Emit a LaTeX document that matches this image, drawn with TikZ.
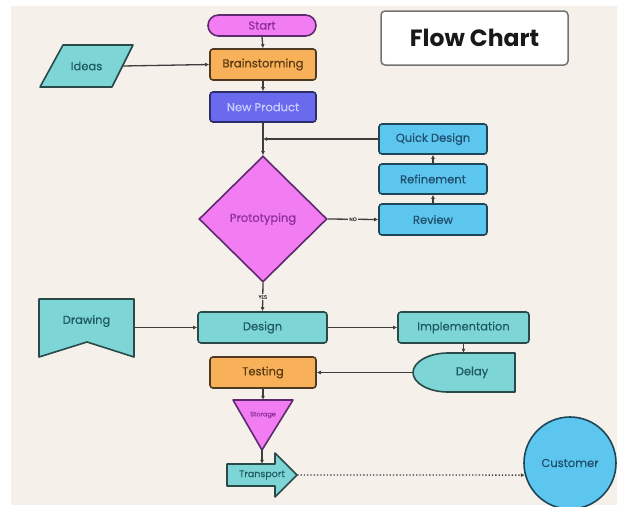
\documentclass[tikz,border=0pt]{standalone}
\usepackage{fontspec}
\setmainfont{Poppins}
\newfontfamily\labfont{Poppins}[FakeBold=0.4]
\usetikzlibrary{shapes.geometric,arrows.meta,calc}
\pgfdeclarelayer{bg}
\pgfdeclarelayer{back}
\pgfsetlayers{back,bg,main}
\definecolor{bgc}{HTML}{F5F1EA}
\definecolor{pinkc}{HTML}{F27CF2}
\definecolor{pinkd}{HTML}{5E2A6E}
\definecolor{pinkt}{HTML}{8E2EA0}
\definecolor{orngc}{HTML}{F8B158}
\definecolor{orngd}{HTML}{4E3A22}
\definecolor{orngt}{HTML}{5A3A12}
\definecolor{purpc}{HTML}{6A6AEE}
\definecolor{purpd}{HTML}{2D2D6A}
\definecolor{purpt}{HTML}{CACAFF}
\definecolor{skyc}{HTML}{5CC6EE}
\definecolor{skyd}{HTML}{1E4658}
\definecolor{skyt}{HTML}{1F4F6F}
\definecolor{tealc}{HTML}{7DD5D5}
\definecolor{teald}{HTML}{2A4A4A}
\definecolor{tealt}{HTML}{1F5A5E}
\definecolor{linec}{HTML}{3E3E3E}
\tikzset{
  lab/.style={font=\labfont\fontsize{11.5}{13}\selectfont, inner sep=0pt},
  rbox/.style={lab, draw, line width=1.6pt, rounded corners=3pt},
  pinkbox/.style={rbox, fill=pinkc, draw=pinkd, text=pinkt},
  orngbox/.style={rbox, fill=orngc, draw=orngd, text=orngt},
  purpbox/.style={rbox, fill=purpc, draw=purpd, text=purpt},
  skybox/.style={rbox, fill=skyc, draw=skyd, text=skyt},
  tealbox/.style={rbox, fill=tealc, draw=teald, text=tealt},
  tealshape/.style={fill=tealc, draw=teald, line width=1.6pt, line join=round},
  ghost/.style={lab, text=tealt},
  arr/.style={draw=linec, line width=1.3pt, -{Latex[length=4pt,width=4pt]}},
  tiny/.style={font=\labfont\fontsize{5}{6}\selectfont, inner sep=1pt, fill=bgc, text=black!80}
}
\begin{document}
\begin{tikzpicture}[x=1pt,y=-1pt]
\useasboundingbox (0,0) rectangle (620,506);
\begin{pgfonlayer}{back}
\fill[white] (0,0) rectangle (620,506);
\fill[bgc] (11,6) rectangle (617,505);
\end{pgfonlayer}

% title
\node[draw=black!55, fill=white, line width=1.5pt, rounded corners=4pt,
  minimum width=187pt, minimum height=54pt, inner sep=0pt,
  font=\fontsize{23.5}{26}\selectfont\bfseries, text=black!90] (title) at (474.5,38) {Flow Chart};

% main column
\node[pinkbox, rounded corners=10.5pt, minimum width=108pt, minimum height=21pt] (start) at (262,25.5) {Start};
\node[orngbox, minimum width=106pt, minimum height=31pt] (brain) at (263,64.5) {Brainstorming};
\node[purpbox, minimum width=106pt, minimum height=30pt] (newp) at (263,107) {New Product};
\node[diamond, draw=pinkd, fill=pinkc, text=pinkt, line width=1.6pt, lab,
  minimum width=128pt, minimum height=126pt] (proto) at (263,219) {Prototyping};

% right loop
\node[skybox, minimum width=108pt, minimum height=30pt] (quick) at (433,139) {Quick Design};
\node[skybox, minimum width=108pt, minimum height=30pt] (refine) at (433,179) {Refinement};
\node[skybox, minimum width=108pt, minimum height=31pt] (review) at (433,219.5) {Review};

% ideas
\begin{pgfonlayer}{bg}
\draw[tealshape] (63,45) -- (133,45) -- (112,87) -- (40,87) -- cycle;
\end{pgfonlayer}
\node[ghost, minimum width=72pt, minimum height=42pt] (ideas) at (86.5,66) {Ideas};

% design row
\node[tealbox, minimum width=129pt, minimum height=31pt] (design) at (262.5,327.5) {Design};
\node[tealbox, minimum width=131pt, minimum height=31pt] (impl) at (463.5,327.5) {Implementation};
\begin{pgfonlayer}{bg}
\draw[tealshape] (39,299) -- (134,299) -- (134,357) -- (87,342) -- (39,357) -- cycle;
\end{pgfonlayer}
\node[ghost, minimum width=95pt] (drawing) at (86.5,321) {Drawing};

% testing row
\node[orngbox, minimum width=106pt, minimum height=31pt] (testing) at (263,372.5) {Testing};
\begin{pgfonlayer}{bg}
\draw[tealshape] (515,353) -- (515,392) -- (448,392)
  .. controls (428.7,392) and (413,383.2) .. (413,372.5)
  .. controls (413,361.8) and (428.7,353) .. (448,353) -- cycle;
\end{pgfonlayer}
\node[ghost, minimum width=118pt, minimum height=39pt] (delay) at (472,372.5) {Delay};

% storage
\begin{pgfonlayer}{bg}
\draw[fill=pinkc, draw=pinkd, line width=1.6pt, line join=round] (233,400) -- (293,400) -- (262,450) -- cycle;
\end{pgfonlayer}
\node[font=\labfont\fontsize{6.5}{7}\selectfont, text=pinkt, inner sep=0pt, minimum width=60pt, minimum height=30pt] (storage) at (263,415) {Storage};
\coordinate (storetip) at (262,450);

% transport
\begin{pgfonlayer}{bg}
\draw[tealshape] (227,464) -- (275,464) -- (275,453) -- (297,475) -- (275,497) -- (275,486) -- (227,486) -- cycle;
\end{pgfonlayer}
\node[lab, text=tealt, font=\labfont\fontsize{9.5}{10}\selectfont, minimum width=70pt, minimum height=22pt] (transport) at (262,475) {Transport};

% customer
\node[circle, draw=skyd, fill=skyc, text=skyt, line width=1.6pt, lab, minimum size=92pt] (cust) at (570,463) {Customer};

% connectors
\draw[arr] (start.south) -- (brain.north);
\draw[arr] (ideas.east) -- (brain.west);
\draw[arr] (brain.south) -- (newp.north);
\draw[arr] (newp.south) -- (proto.north);
\draw[arr] (quick.west) -- (proto.north |- quick.west);
\draw[arr] (proto.east) -- node[tiny] {NO} (review.west);
\draw[arr] (review.north) -- (refine.south);
\draw[arr] (refine.north) -- (quick.south);
\draw[arr] (proto.south) -- node[tiny] {YES} (design.north);
\draw[arr] (drawing.east |- design.west) -- (design.west);
\draw[arr] (design.east) -- (impl.west);
\draw[arr] (impl.south) -- (impl.south |- delay.north);
\draw[arr] (delay.west) -- (testing.east);
\draw[arr] (testing.south) -- (storage.north);
\draw[arr] (storetip) -- (transport.north);
\draw[arr, dotted] (transport.east) -- (cust.195);
\end{tikzpicture}
\end{document}
